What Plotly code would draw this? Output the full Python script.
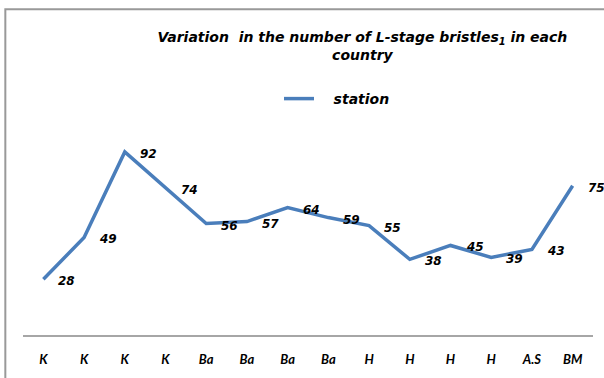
import plotly.graph_objects as go

# Sampling stations along the x axis and the bristle counts at each one
stations = ["K", "K", "K", "K", "Ba", "Ba", "Ba", "Ba", "H", "H", "H", "H", "A.S", "BM"]
bristles = [28, 49, 92, 74, 56, 57, 64, 59, 55, 38, 45, 39, 43, 75]
series_name = "station"
title_text = "Variation&nbsp; in the number of L-stage bristles<sub>1</sub> in each<br>country"

positions = list(range(len(stations)))
WIDE = "DejaVu Sans"
NARROW = "Lato"

fig = go.Figure()
fig.add_trace(go.Scatter(
    x=positions,
    y=bristles,
    mode="lines",
    # non-breaking spaces widen the gap between the legend swatch and its text
    name="\u00a0\u00a0\u00a0" + series_name,
    line=dict(color="#4a7ebb", width=3.5),
    showlegend=True,
))

# Value labels sit just to the right of each point
for xp, v in zip(positions, bristles):
    fig.add_annotation(
        x=xp, y=v, text=str(v), showarrow=False,
        xanchor="left", yanchor="middle", xshift=13, yshift=-2,
        font=dict(family=WIDE, size=12, color="black", weight="bold", style="italic"),
    )

# Outer chart frame
fig.add_shape(
    type="rect", xref="paper", yref="paper",
    x0=-0.031, x1=1.04, y0=-0.4, y1=1.637,
    line=dict(color="#999999", width=2), fillcolor="rgba(0,0,0,0)", layer="below",
)

fig.update_layout(
    width=604, height=378,
    margin=dict(l=23, r=11, t=136, b=38),
    paper_bgcolor="white", plot_bgcolor="white",
    title=dict(
        text=title_text, x=0.6, xanchor="center",
        yref="container", y=1 - 42 / 378, yanchor="middle",
        font=dict(family=WIDE, size=14, color="black", weight="bold", style="italic"),
    ),
    legend=dict(
        orientation="h", xref="container", yref="container",
        x=279 / 604, xanchor="left", y=1 - 99 / 378, yanchor="middle",
        itemwidth=30,
        font=dict(family=WIDE, size=14, color="black", weight="bold", style="italic"),
        bgcolor="rgba(0,0,0,0)",
    ),
    xaxis=dict(
        range=[-0.5, len(stations) - 0.5],
        tickmode="array", tickvals=positions, ticktext=stations,
        showgrid=False, zeroline=False,
        showline=True, linecolor="#a6a6a6", linewidth=1.5,
        ticks="outside", ticklen=12, tickcolor="rgba(0,0,0,0)",
        tickfont=dict(family=NARROW, size=13, color="black", weight="bold", style="italic"),
    ),
    yaxis=dict(
        range=[0, 100], showgrid=False, zeroline=False,
        showline=False, showticklabels=False, ticks="",
    ),
)

fig.write_html("out.html")
